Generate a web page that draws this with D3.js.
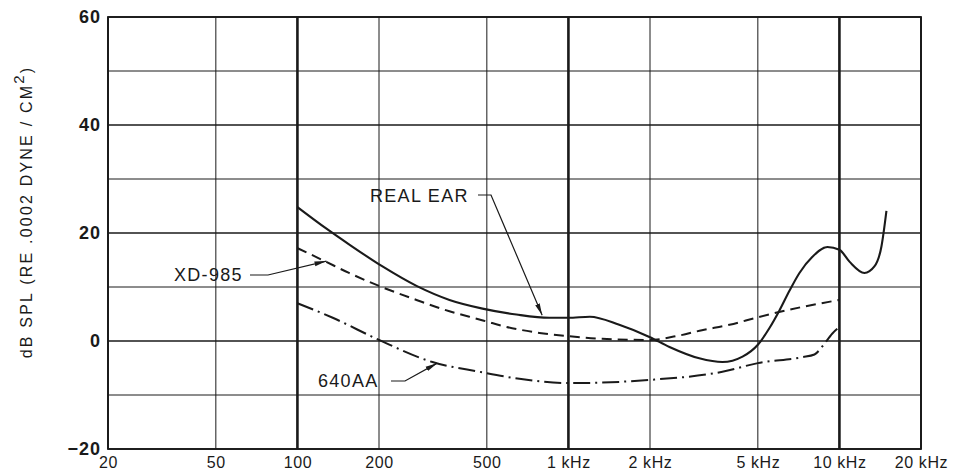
<!DOCTYPE html>
<html>
<head>
<meta charset="utf-8">
<script src="https://cdn.jsdelivr.net/npm/d3@7"></script>
<style>
  html, body { margin: 0; padding: 0; background: #fff; }
  svg { display: block; }
  text { fill: #1a1a1a; font-family: "Liberation Sans", Arial, sans-serif; }
</style>
</head>
<body>
<svg id="chart" width="953" height="473"></svg>
<script>
// ---- data ----
const xTicks = [20, 50, 100, 200, 500, 1000, 2000, 5000, 10000, 20000];
const xTickLabels = ["20", "50", "100", "200", "500", "1 kHz", "2 kHz", "5 kHz", "10 kHz", "20 kHz"];
const xDecades = [100, 1000, 10000];
const yTicks = [-20, 0, 20, 40, 60];
const yGrid = [-20, -10, 0, 10, 20, 30, 40, 50, 60];

const realEarFreq = [100, 128, 155, 206, 275, 364, 482, 643, 850, 1000, 1200, 1540, 2000, 2360, 3040, 3700, 4390, 5000, 5520, 6000, 6540, 7120, 7950, 9030, 10000, 10890, 12370, 13460, 14290, 14910];
const realEarDb   = [24.8, 20.8, 17.9, 13.8, 10.2, 7.6, 6.0, 4.9, 4.3, 4.3, 4.5, 3.0, 0.7, -1.1, -3.2, -3.9, -2.9, -0.7, 2.4, 5.6, 9.3, 12.6, 15.6, 17.4, 16.9, 14.7, 12.6, 13.8, 17.5, 24.1];

const xd985Freq = [100, 126, 155, 200, 275, 364, 431, 500, 570, 782, 1000, 1333, 2000, 2500, 3110, 3930, 5000, 7280, 10000];
const xd985Db   = [17.2, 14.8, 12.6, 10.2, 7.6, 5.5, 4.5, 3.6, 2.8, 1.5, 0.9, 0.4, 0.2, 0.9, 2.0, 3.0, 4.4, 6.3, 7.6];

const aa640Freq = [100, 135, 200, 315, 470, 659, 1000, 1333, 2000, 3700, 5000, 7280, 8090, 8650, 9420, 9900];
const aa640Db   = [7.0, 4.3, 0.2, -3.9, -5.7, -7.0, -7.8, -7.7, -7.2, -5.7, -4.1, -3.0, -2.5, -1.0, 1.4, 2.4];

const yTitle = "dB SPL (RE .0002 DYNE / CM";
const labelReal = "REAL EAR", labelXd = "XD-985", labelAa = "640AA";

// ---- scales ----
const svg = d3.select("#chart");
const x = d3.scaleLog().domain([20, 20000]).range([108, 921]);
const y = d3.scaleLinear().domain([-20, 60]).range([449, 17]);
const ink = "#1a1a1a";

// grid
const g = svg.append("g");
g.selectAll("line.h").data(yGrid).join("line")
  .attr("x1", x(20)).attr("x2", x(20000))
  .attr("y1", d => y(d)).attr("y2", d => y(d))
  .attr("stroke", ink).attr("stroke-width", d => d % 20 === 0 ? 1.4 : 1);
g.selectAll("line.v").data(xTicks).join("line")
  .attr("y1", y(-20)).attr("y2", y(60))
  .attr("x1", d => x(d)).attr("x2", d => x(d))
  .attr("stroke", ink)
  .attr("stroke-width", d => xDecades.includes(d) ? 2.6 : (d === 20 || d === 20000 ? 1.8 : 1));
g.append("rect").attr("x", x(20)).attr("y", y(60))
  .attr("width", x(20000) - x(20)).attr("height", y(-20) - y(60))
  .attr("fill", "none").attr("stroke", ink).attr("stroke-width", 1.8);

// axes labels
const xAxis = d3.axisBottom(x).tickValues(xTicks)
  .tickFormat((d, i) => xTickLabels[i]).tickSize(0).tickPadding(8);
const xa = svg.append("g").attr("transform", `translate(0,${y(-20)})`).call(xAxis);
xa.select(".domain").remove();
xa.selectAll("text").style("font-size", "16px").style("letter-spacing", "0.6px")
  .attr("fill", ink).style("font-family", '"Liberation Sans", Arial, sans-serif');

const yAxis = d3.axisLeft(y).tickValues(yTicks).tickFormat(d => d === -20 ? "\u221220" : String(d))
  .tickSize(0).tickPadding(7);
const ya = svg.append("g").attr("transform", `translate(${x(20)},0)`).call(yAxis);
ya.select(".domain").remove();
ya.selectAll("text").style("font-size", "18px").style("font-weight", "bold").style("letter-spacing", "1px")
  .attr("fill", ink).style("font-family", '"Liberation Sans", Arial, sans-serif');

// y title
const yt = svg.append("text")
  .attr("transform", "translate(32,212) rotate(-90)")
  .attr("text-anchor", "middle")
  .style("font-size", "16px").style("letter-spacing", "2.2px")
  .text(yTitle);
yt.append("tspan").attr("dy", "-8").style("font-size", "15px").text("2");
yt.append("tspan").attr("dy", "8").text(")");

// curves
const line = d3.line().x(d => x(d[0])).y(d => y(d[1])).curve(d3.curveMonotoneX);
const zip = (a, b) => a.map((v, i) => [v, b[i]]);

svg.append("path").datum(zip(realEarFreq, realEarDb)).attr("d", line)
  .attr("fill", "none").attr("stroke", ink).attr("stroke-width", 2.1);
svg.append("path").datum(zip(xd985Freq, xd985Db)).attr("d", line)
  .attr("fill", "none").attr("stroke", ink).attr("stroke-width", 2)
  .attr("stroke-dasharray", "10,6");
svg.append("path").datum(zip(aa640Freq, aa640Db)).attr("d", line)
  .attr("fill", "none").attr("stroke", ink).attr("stroke-width", 2)
  .attr("stroke-dasharray", "17,5,2,5");

// annotations
svg.append("defs").append("marker")
  .attr("id", "arr").attr("viewBox", "0 0 12 6").attr("refX", 12).attr("refY", 3)
  .attr("markerWidth", 12).attr("markerHeight", 6).attr("markerUnits", "userSpaceOnUse")
  .attr("orient", "auto")
  .append("path").attr("d", "M0,0.6 L12,3 L0,5.4 Z").attr("fill", ink);

function note(txt, tx, ty, path) {
  svg.append("text").attr("x", tx).attr("y", ty)
    .style("font-size", "18px").style("letter-spacing", "1.3px").text(txt);
  svg.append("path").attr("d", path).attr("fill", "none")
    .attr("stroke", ink).attr("stroke-width", 1.2).attr("marker-end", "url(#arr)");
}
note(labelReal, 370, 202, `M478,195 L491,195 L${x(800)},${y(4.4) - 2}`);
note(labelXd, 174, 281, `M250,275 L268,275 L${x(128)},${y(14.8)}`);
note(labelAa, 318, 387, `M391,381 L405,381 L${x(328)},${y(-4.1)}`);
</script>
</body>
</html>
